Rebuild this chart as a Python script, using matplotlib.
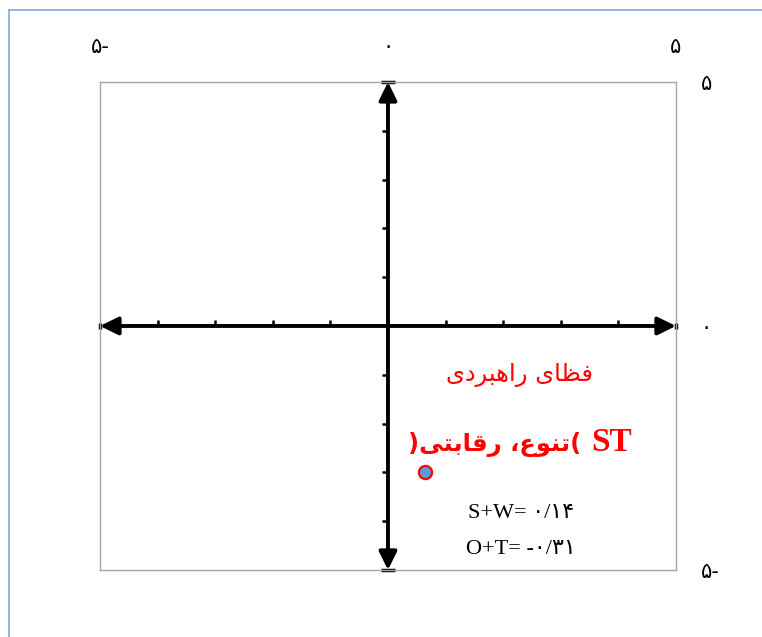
#!/usr/bin/env python3
"""
Strategic space (SWOT) position chart.
"""

import matplotlib
matplotlib.use('Agg')
import matplotlib.pyplot as plt
from matplotlib.lines import Line2D

# Axis range and ticks
axis_min, axis_max = -5, 5
tick_values = [-4, -3, -2, -1, 1, 2, 3, 4]
label_values = [-5, 0, 5]
label_texts = ['\u06f5-', '\u06f0', '\u06f5']   # ۵-  ۰  ۵

# Position of the organisation in the strategy space
point_x = [0.65]
point_y = [-3.0]

# Texts (Persian is stored in visual order with presentation forms,
# matplotlib does no Arabic shaping / bidi)
title_fa = ('\ufeef\ufea9\ufeae\ufe92\ufeeb\ufe8d\ufead'   # راهبردی
            ' '
            '\ufeef\ufe8e\ufec8\ufed3')                     # فضای
st_code = 'ST'
st_name = (')'
           '\ufef0\ufe98\ufe91\ufe8e\ufed7\ufead'           # رقابتی
           ' \u060c'
           '\ufec9\ufeee\ufee8\ufe97'                       # تنوع
           '(')
sw_text = 'S+W= \u06f0/\u06f1\u06f4'
ot_text = 'O+T= -\u06f0/\u06f3\u06f1'


def main():
    fig = plt.figure(figsize=(7.62, 6.37), dpi=100)
    ax = fig.add_axes([0.1312, 0.1052, 0.7559, 0.7661])

    ax.set_xlim(axis_min, axis_max)
    ax.set_ylim(axis_min, axis_max)
    for s in ax.spines.values():
        s.set_color('#a6a6a6')
        s.set_linewidth(1.0)

    # tick labels on top and right, no tick marks
    ax.xaxis.tick_top()
    ax.yaxis.tick_right()
    ax.set_xticks(label_values)
    ax.set_yticks(label_values)
    ax.set_xticklabels(label_texts, family=['DejaVu Sans'], fontsize=15)
    ax.set_yticklabels(label_texts, family=['DejaVu Sans'], fontsize=15)
    ax.tick_params(axis='x', length=0, pad=18)
    ax.tick_params(axis='y', length=0, pad=18)

    # double-headed axes arrows
    arrow = dict(arrowstyle='<|-|>,head_length=0.55,head_width=0.27',
                 color='black', lw=2.8, shrinkA=0, shrinkB=0,
                 mutation_scale=20)
    ax.annotate('', xy=(axis_max, 0), xytext=(axis_min, 0), arrowprops=arrow)
    ax.annotate('', xy=(0, axis_max), xytext=(0, axis_min), arrowprops=arrow)

    # small tick marks along the arrows
    ax.plot(tick_values, [0] * len(tick_values), linestyle='none',
            marker=2, markersize=4, markeredgewidth=1.8, color='black')
    ax.plot([0] * len(tick_values), tick_values, linestyle='none',
            marker=0, markersize=4, markeredgewidth=1.8, color='black')
    # end caps
    ax.plot([0, 0], [axis_min, axis_max], linestyle='none', marker='_',
            markersize=10, markeredgewidth=2.5, color='black', clip_on=False)
    ax.plot([axis_min, axis_max], [0, 0], linestyle='none', marker='|',
            markersize=5, markeredgewidth=2.5, color='black', clip_on=False)

    # the point
    ax.scatter(point_x, point_y, s=90, facecolor='#5b9bd5',
               edgecolor='#ff0000', linewidth=1.6, zorder=5)

    ax.text(2.29, -1.0, title_fa, color='#ff0000', fontsize=17.5,
            ha='center', va='center', family=['DejaVu Sans'])
    ax.text(4.24, -2.38, st_code, color='#ff0000', fontsize=24,
            fontweight='bold', ha='right', va='center',
            family=['Liberation Serif'])
    ax.text(3.36, -2.42, st_name, color='#ff0000', fontsize=17.5,
            fontweight='bold', ha='right', va='center',
            family=['DejaVu Sans'])
    ax.text(2.31, -3.85, sw_text, color='black', fontsize=16,
            ha='center', va='center',
            family=['Liberation Serif', 'DejaVu Sans'])
    ax.text(2.31, -4.59, ot_text, color='black', fontsize=16,
            ha='center', va='center',
            family=['Liberation Serif', 'DejaVu Sans'])

    # page border
    fig.add_artist(Line2D([9 / 762, 9 / 762], [0, 1 - 10 / 637],
                          color='#7faad8', lw=1.2))
    fig.add_artist(Line2D([9 / 762, 1], [1 - 10 / 637, 1 - 10 / 637],
                          color='#7faad8', lw=1.2))

    fig.savefig('out.png', dpi=100)
    plt.close(fig)


if __name__ == '__main__':
    main()
